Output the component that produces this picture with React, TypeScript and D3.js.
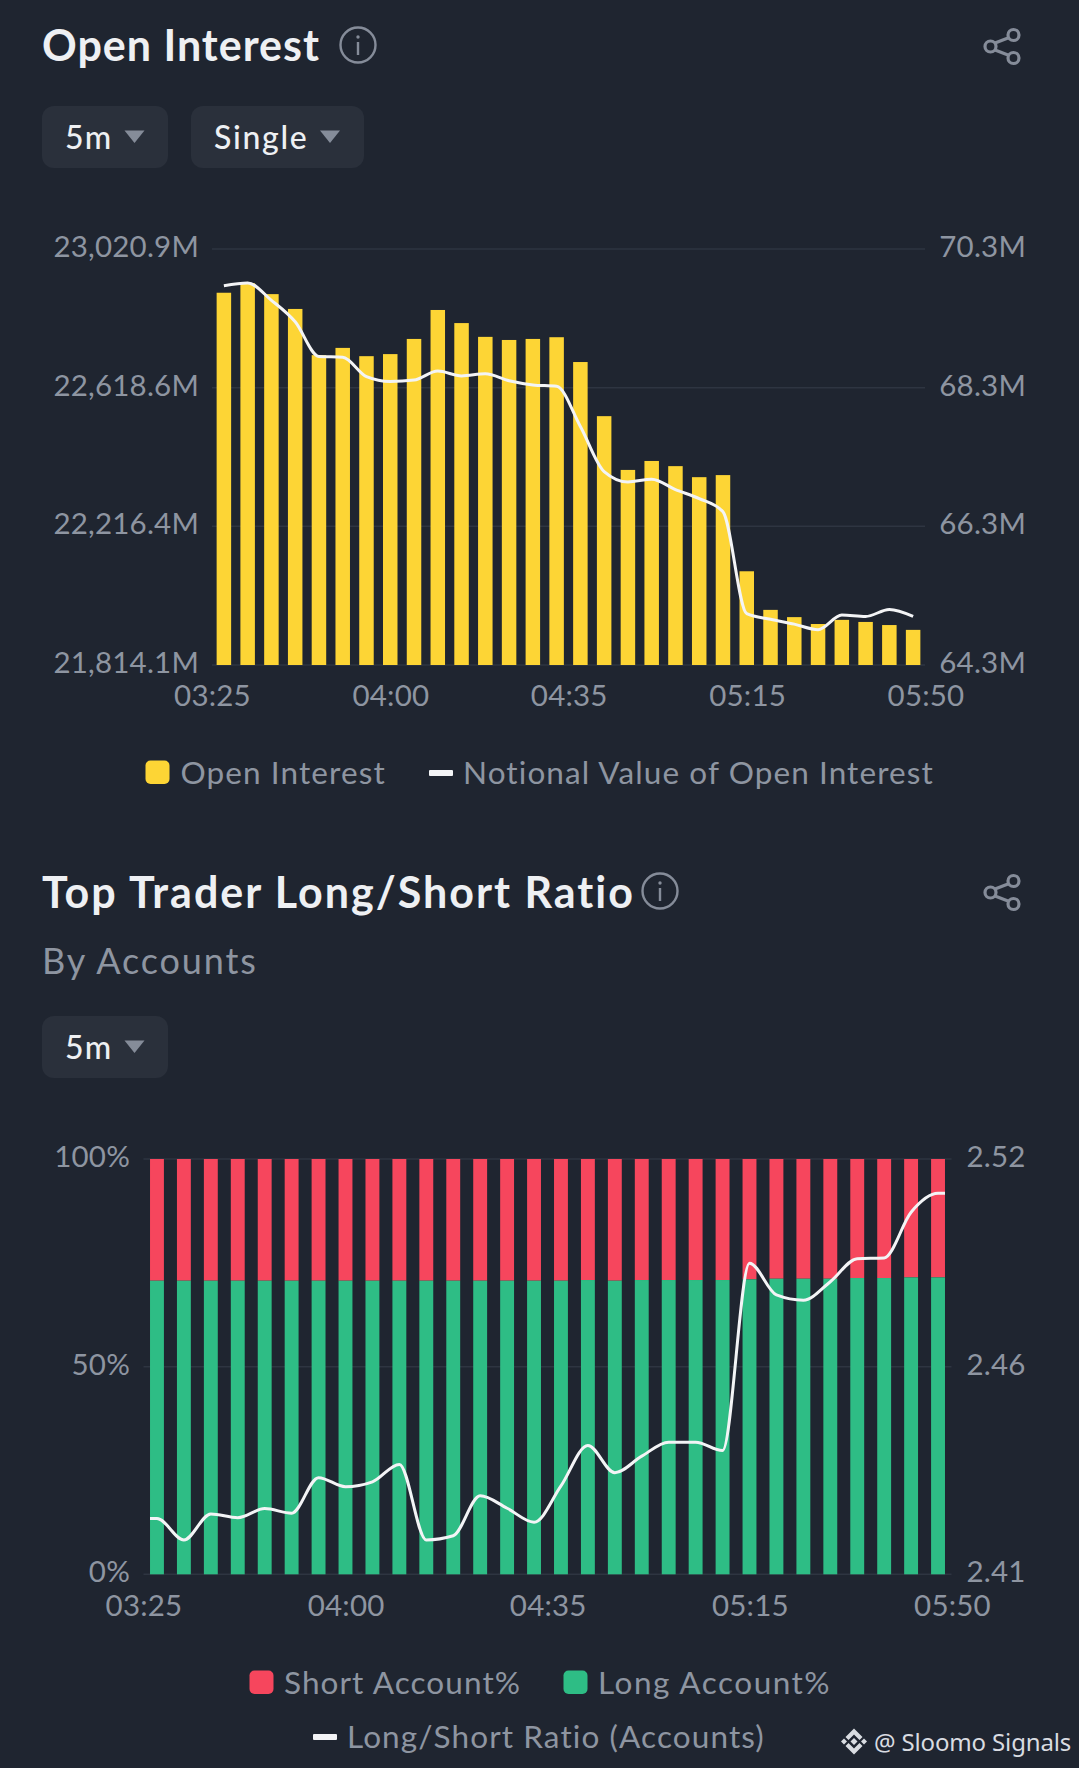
import React, { useEffect, useRef } from 'react';
import * as d3 from 'd3';

// --- data ---
const timeLabels = ['03:25', '04:00', '04:35', '05:15', '05:50'];
const slots = d3.range(30);

const openInterest = [
  22894, 22922, 22890, 22847, 22713, 22734, 22710, 22716, 22760, 22844,
  22806, 22766, 22757, 22760, 22765, 22693, 22536, 22380, 22406, 22391,
  22359, 22365, 22086, 21974, 21953, 21933, 21945, 21939, 21930, 21916,
];
const notionalValue = [
  69.77, 69.81, 69.56, 69.25, 68.75, 68.74, 68.46, 68.39, 68.41, 68.54,
  68.47, 68.5, 68.4, 68.34, 68.32, 67.74, 67.09, 66.94, 66.98, 66.83,
  66.7, 66.51, 65.04, 64.96, 64.89, 64.81, 65.02, 65.0, 65.1, 65.0,
];
const oiTicks = [21814.1, 22216.4, 22618.6, 23020.9];
const notionalTicks = [64.3, 66.3, 68.3, 70.3];

const longAccount = [
  70.7, 70.7, 70.7, 70.7, 70.7, 70.7, 70.7, 70.7, 70.7, 70.7,
  70.7, 70.7, 70.7, 70.7, 70.7, 70.7, 70.86, 70.7, 70.86, 70.86,
  70.86, 70.86, 71.02, 71.18, 71.18, 71.18, 71.34, 71.34, 71.5, 71.5,
];
const longShortRatio = [
  2.4248, 2.4191, 2.426, 2.425, 2.4274, 2.4262, 2.4356, 2.4332, 2.4345, 2.4391,
  2.4191, 2.4202, 2.4308, 2.4275, 2.4238, 2.4334, 2.4441, 2.4369, 2.4413, 2.445,
  2.445, 2.4428, 2.4924, 2.484, 2.4826, 2.4875, 2.4936, 2.4938, 2.5059, 2.5109,
];
const pctTicks = [0, 50, 100];
const ratioTicks = [2.41, 2.465, 2.52];
const ratioLabels = ['2.41', '2.46', '2.52'];

const BG = '#1f2530';
const PANEL = '#2a303b';
const GRID = '#2e3541';
const AXIS_TEXT = '#8e95a1';
const TITLE = '#eef0f3';
const ICON = '#858c99';
const YELLOW = '#fdd535';
const RED = '#f6465d';
const GREEN = '#2ebd85';
const LINE = '#f3f4f6';
const FONT = 'Lato, sans-serif';

const App = () => {
  const ref = useRef<SVGSVGElement>(null);

  useEffect(() => {
    const svg = d3.select(ref.current);
    svg.selectAll('*').remove();
    svg.append('rect').attr('width', 1079).attr('height', 1768).attr('fill', BG);

    const text = (x, y, s, size, fill, weight = 400, spacing = 0) =>
      svg.append('text')
        .attr('x', x).attr('y', y)
        .attr('font-family', FONT)
        .attr('font-size', size)
        .attr('font-weight', weight)
        .attr('letter-spacing', spacing)
        .attr('fill', fill)
        .text(s);

    const infoIcon = (cx, cy) => {
      svg.append('circle').attr('cx', cx).attr('cy', cy).attr('r', 17.5)
        .attr('fill', 'none').attr('stroke', ICON).attr('stroke-width', 2.4);
      svg.append('circle').attr('cx', cx).attr('cy', cy - 8).attr('r', 1.7).attr('fill', ICON);
      svg.append('line').attr('x1', cx).attr('x2', cx).attr('y1', cy - 3).attr('y2', cy + 10)
        .attr('stroke', ICON).attr('stroke-width', 2.4);
    };

    const shareIcon = (dy) => {
      const g = svg.append('g').attr('transform', `translate(1,${dy})`)
        .attr('fill', 'none').attr('stroke', ICON).attr('stroke-width', 3.2);
      g.append('line').attr('x1', 994).attr('y1', 43).attr('x2', 1007).attr('y2', 38);
      g.append('line').attr('x1', 994).attr('y1', 50).attr('x2', 1007).attr('y2', 55);
      g.append('circle').attr('cx', 1012.5).attr('cy', 35).attr('r', 5.5);
      g.append('circle').attr('cx', 989.5).attr('cy', 46.5).attr('r', 5.5);
      g.append('circle').attr('cx', 1012.5).attr('cy', 58).attr('r', 5.5);
    };

    const dropdown = (x, y, w, label, triX, spacing = 1.3) => {
      svg.append('rect').attr('x', x).attr('y', y).attr('width', w).attr('height', 62)
        .attr('rx', 12).attr('fill', PANEL);
      text(x + 23, y + 42.5, label, 32, TITLE, 500, spacing);
      svg.append('path')
        .attr('d', `M${triX},${y + 24.5}h20l-10,12.5z`)
        .attr('fill', ICON);
    };

    const swatch = (x, y, color) =>
      svg.append('rect').attr('x', x).attr('y', y).attr('width', 24).attr('height', 23.5)
        .attr('rx', 5).attr('fill', color);
    const lineSwatch = (x, y) =>
      svg.append('rect').attr('x', x).attr('y', y).attr('width', 24).attr('height', 6)
        .attr('rx', 1).attr('fill', LINE);

    const styleAxis = (g, baselineShift) => {
      g.select('.domain').remove();
      g.selectAll('.tick line').remove();
      g.selectAll('text')
        .attr('font-family', FONT)
        .attr('font-size', 29.5)
        .attr('font-weight', 400)
        .attr('letter-spacing', 0.2)
        .attr('fill', AXIS_TEXT)
        .attr('dy', baselineShift);
      return g;
    };

    // --- Open Interest ---
    text(42, 61, 'Open Interest', 43, TITLE, 700, 1);
    infoIcon(358, 45);
    shareIcon(0);
    dropdown(42, 106, 126, '5m', 124.5);
    dropdown(191, 106, 173, 'Single', 320, 1.7);

    const x1 = d3.scaleBand<number>().domain(slots).range([212, 925])
      .paddingInner(0.39).paddingOuter(0.195);
    const yOi = d3.scaleLinear().domain([oiTicks[0], oiTicks[3]]).range([665, 249]);
    const yNotional = d3.scaleLinear().domain([notionalTicks[0], notionalTicks[3]]).range([665, 249]);
    const xLabels1 = d3.scalePoint().domain(timeLabels).range([212, 925.5]);

    svg.append('g').selectAll('line').data(oiTicks).enter().append('line')
      .attr('x1', 212).attr('x2', 925)
      .attr('y1', d => yOi(d)).attr('y2', d => yOi(d))
      .attr('stroke', GRID).attr('stroke-width', 1.5);

    svg.append('g').selectAll('rect').data(openInterest).enter().append('rect')
      .attr('x', (_, i) => x1(i))
      .attr('width', x1.bandwidth())
      .attr('y', d => yOi(d))
      .attr('height', d => yOi(oiTicks[0]) - yOi(d))
      .attr('fill', YELLOW);

    const line1 = d3.line<number>()
      .x((_, i) => x1(i) + x1.bandwidth() / 2)
      .y(d => yNotional(d))
      .curve(d3.curveMonotoneX);
    svg.append('path').attr('d', line1(notionalValue))
      .attr('fill', 'none').attr('stroke', LINE).attr('stroke-width', 3);

    styleAxis(svg.append('g').attr('transform', 'translate(199,0)')
      .call(d3.axisLeft(yOi).tickValues(oiTicks).tickSize(0).tickPadding(0)
        .tickFormat(d => d3.format(',.1f')(d) + 'M')), 7.5);
    styleAxis(svg.append('g').attr('transform', 'translate(1026,0)')
      .call(d3.axisLeft(yNotional).tickValues(notionalTicks).tickSize(0).tickPadding(0)
        .tickFormat(d => d3.format('.1f')(d) + 'M')), 7.5);
    styleAxis(svg.append('g').attr('transform', 'translate(0,706)')
      .call(d3.axisBottom(xLabels1).tickSize(0).tickPadding(0)), 0)
      .selectAll('text').attr('y', 0);

    swatch(145.5, 760.5, YELLOW);
    text(180.5, 783.5, 'Open Interest', 31.5, AXIS_TEXT, 400, 1.1);
    lineSwatch(429, 770);
    text(463, 783.5, 'Notional Value of Open Interest', 31.5, AXIS_TEXT, 400, 1.1);

    // --- Top Trader Long/Short Ratio ---
    text(42, 908, 'Top Trader Long/Short Ratio', 43, TITLE, 700, 2);
    infoIcon(660, 891);
    shareIcon(846);
    text(42, 974, 'By Accounts', 36, AXIS_TEXT, 400, 1.9);
    dropdown(42, 1016, 126, '5m', 124.5);

    const x2 = d3.scaleBand<number>().domain(slots).range([143.5, 951.5])
      .paddingInner(0.484).paddingOuter(0.242);
    const yPct = d3.scaleLinear().domain([0, 100]).range([1574.3, 1159]);
    const yRatio = d3.scaleLinear().domain([ratioTicks[0], ratioTicks[2]]).range([1574.3, 1159]);
    const xLabels2 = d3.scalePoint().domain(timeLabels).range([143.5, 952]);

    svg.append('g').selectAll('line').data(pctTicks).enter().append('line')
      .attr('x1', 143.5).attr('x2', 951.5)
      .attr('y1', d => yPct(d)).attr('y2', d => yPct(d))
      .attr('stroke', GRID).attr('stroke-width', 1.5);

    svg.append('g').selectAll('rect').data(longAccount).enter().append('rect')
      .attr('x', (_, i) => x2(i))
      .attr('width', x2.bandwidth())
      .attr('y', yPct(100))
      .attr('height', d => yPct(d) - yPct(100))
      .attr('fill', RED);
    svg.append('g').selectAll('rect').data(longAccount).enter().append('rect')
      .attr('x', (_, i) => x2(i))
      .attr('width', x2.bandwidth())
      .attr('y', d => yPct(d))
      .attr('height', d => yPct(0) - yPct(d))
      .attr('fill', GREEN);

    // the ratio line runs on flat to the outer edges of the first and last bar
    const ratioPoints: [number, number][] = [
      [x2(0), longShortRatio[0]],
      ...longShortRatio.map((d, i): [number, number] => [x2(i) + x2.bandwidth() / 2, d]),
      [x2(29) + x2.bandwidth(), longShortRatio[29]],
    ];
    const line2 = d3.line<[number, number]>()
      .x(d => d[0])
      .y(d => yRatio(d[1]))
      .curve(d3.curveMonotoneX);
    svg.append('path').attr('d', line2(ratioPoints))
      .attr('fill', 'none').attr('stroke', LINE).attr('stroke-width', 3);

    styleAxis(svg.append('g').attr('transform', 'translate(130,0)')
      .call(d3.axisLeft(yPct).tickValues(pctTicks).tickSize(0).tickPadding(0)
        .tickFormat(d => `${d}%`)), 7.5);
    styleAxis(svg.append('g').attr('transform', 'translate(1025.5,0)')
      .call(d3.axisLeft(yRatio).tickValues(ratioTicks).tickSize(0).tickPadding(0)
        .tickFormat((_, i) => ratioLabels[i])), 7.5);
    styleAxis(svg.append('g').attr('transform', 'translate(0,1616)')
      .call(d3.axisBottom(xLabels2).tickSize(0).tickPadding(0)), 0)
      .selectAll('text').attr('y', 0);

    swatch(249.5, 1670.5, RED);
    text(284, 1693.5, 'Short Account%', 31.5, AXIS_TEXT, 400, 1.1);
    swatch(563.5, 1670.5, GREEN);
    text(598, 1693.5, 'Long Account%', 31.5, AXIS_TEXT, 400, 1.5);
    lineSwatch(313, 1734);
    text(347, 1747.5, 'Long/Short Ratio (Accounts)', 31.5, AXIS_TEXT, 400, 1.1);

    // watermark
    const mark = svg.append('g').attr('transform', 'translate(854,1741.5)').attr('fill', '#d9dce1');
    mark.append('path').attr('d', 'M0,-13L8.5,-4.5L5.5,-1.5L0,-7L-5.5,-1.5L-8.5,-4.5Z');
    mark.append('path').attr('d', 'M0,13L8.5,4.5L5.5,1.5L0,7L-5.5,1.5L-8.5,4.5Z');
    mark.append('path').attr('d', 'M-13,0L-10,-3L-7,0L-10,3Z');
    mark.append('path').attr('d', 'M13,0L10,-3L7,0L10,3Z');
    mark.append('path').attr('d', 'M0,-3.5L3.5,0L0,3.5L-3.5,0Z');
    svg.append('text').attr('x', 874).attr('y', 1750.5)
      .attr('font-family', '"Noto Sans", sans-serif').attr('font-size', 24)
      .attr('letter-spacing', -0.15)
      .attr('fill', '#d9dce1').text('@ Sloomo Signals');
  }, []);

  return (
    <svg
      ref={ref}
      width={1079}
      height={1768}
      style={{ position: 'absolute', left: 0, top: 0, display: 'block' }}
    />
  );
};

export default App;
